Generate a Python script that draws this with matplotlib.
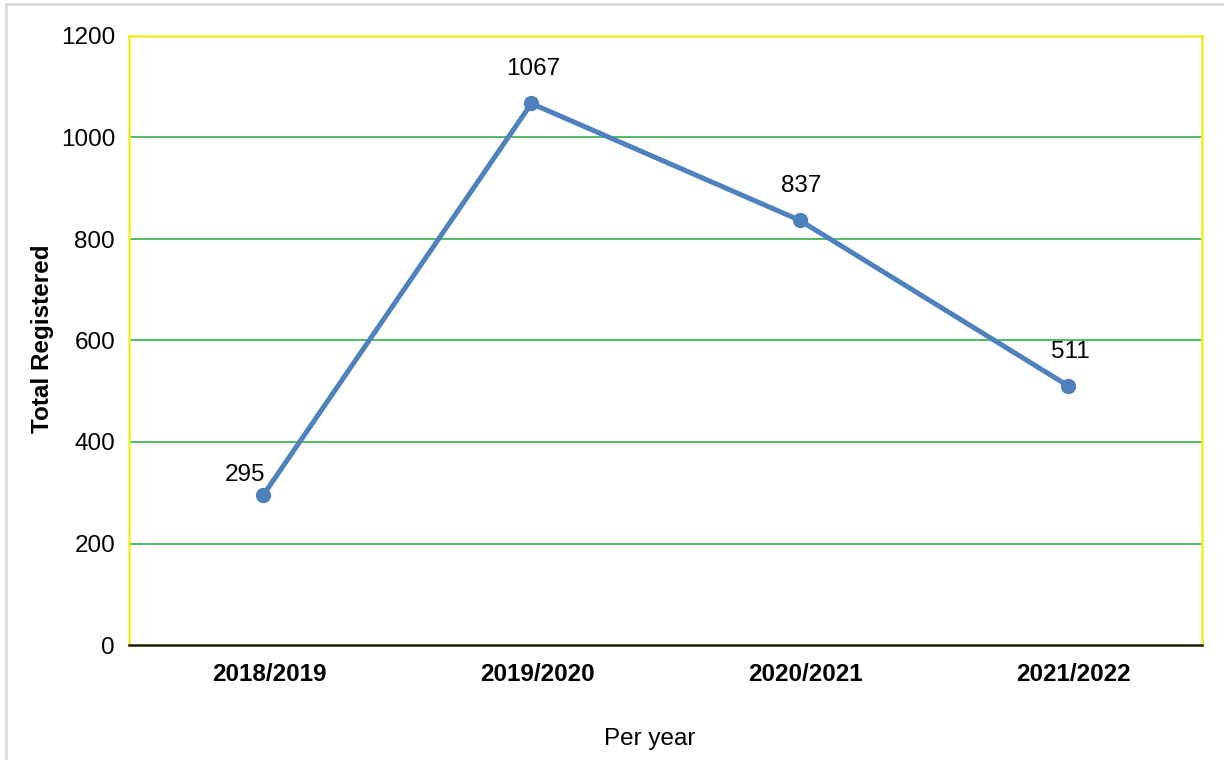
import matplotlib
matplotlib.use("Agg")
import matplotlib.pyplot as plt
import matplotlib.transforms as mtransforms
from matplotlib.patches import Rectangle

plt.rcParams['font.family'] = ['Liberation Sans', 'DejaVu Sans']

years = ["2018/2019", "2019/2020", "2020/2021", "2021/2022"]
registered = [295, 1067, 837, 511]
y_ticks = [0, 200, 400, 600, 800, 1000, 1200]

W, H = 1224, 760
FS = 17.5
fig = plt.figure(figsize=(W / 100, H / 100), dpi=100)

# light grey chart frame
fig.patches.append(Rectangle((6 / W, -0.05), 1.2, (H - 4) / H + 0.05,
                             transform=fig.transFigure, fill=False,
                             edgecolor='#d9d9d9', linewidth=2))

left, right, top, bottom = 129, 1202, 36, 645
ax = fig.add_axes([left / W, 1 - bottom / H, (right - left) / W, (bottom - top) / H])

x = list(range(len(years)))
line_color = '#4f81bd'
ax.plot(x, registered, color=line_color, linewidth=3.6, marker='o',
        markersize=10, solid_capstyle='round', zorder=3, clip_on=False)

ax.set_xlim(-0.5, len(years) - 0.5)
ax.set_ylim(0, 1200)
ax.set_yticks(y_ticks)
ax.set_yticklabels([str(v) for v in y_ticks], fontsize=FS)
ax.set_xticks(x)
ax.set_xticklabels(years, fontsize=FS, fontweight='bold')
ax.tick_params(axis='both', length=0)
ax.tick_params(axis='y', pad=10)
ax.tick_params(axis='x', pad=13)

# category labels sit slightly right of their points
shift = mtransforms.ScaledTranslation(6 / 100, 0, fig.dpi_scale_trans)
for lbl in ax.get_xticklabels():
    lbl.set_transform(lbl.get_transform() + shift)

for v in y_ticks[1:-1]:
    ax.axhline(v, color='#33b04a', linewidth=1.2, zorder=1)

for side in ('top', 'left', 'right'):
    ax.spines[side].set_color('#eeee22')
    ax.spines[side].set_linewidth(1.8)
ax.spines['bottom'].set_color('#1a1a00')
ax.spines['bottom'].set_linewidth(1.8)

# value labels
for i, v in enumerate(registered):
    if i == 0:
        ax.annotate(str(v), (i, v), xytext=(-18, 20), textcoords='offset pixels',
                    ha='center', va='center', fontsize=FS)
    else:
        ax.annotate(str(v), (i, v), xytext=(2, 34), textcoords='offset pixels',
                    ha='center', va='center', fontsize=FS)

fig.text(43 / W, 1 - 339 / H, "Total Registered", rotation=90, ha='center',
         va='center', fontsize=FS, fontweight='bold')
fig.text(650 / W, 1 - 739 / H, "Per year", ha='center', va='center', fontsize=FS)

fig.savefig("out.png", dpi=100, facecolor='white')
